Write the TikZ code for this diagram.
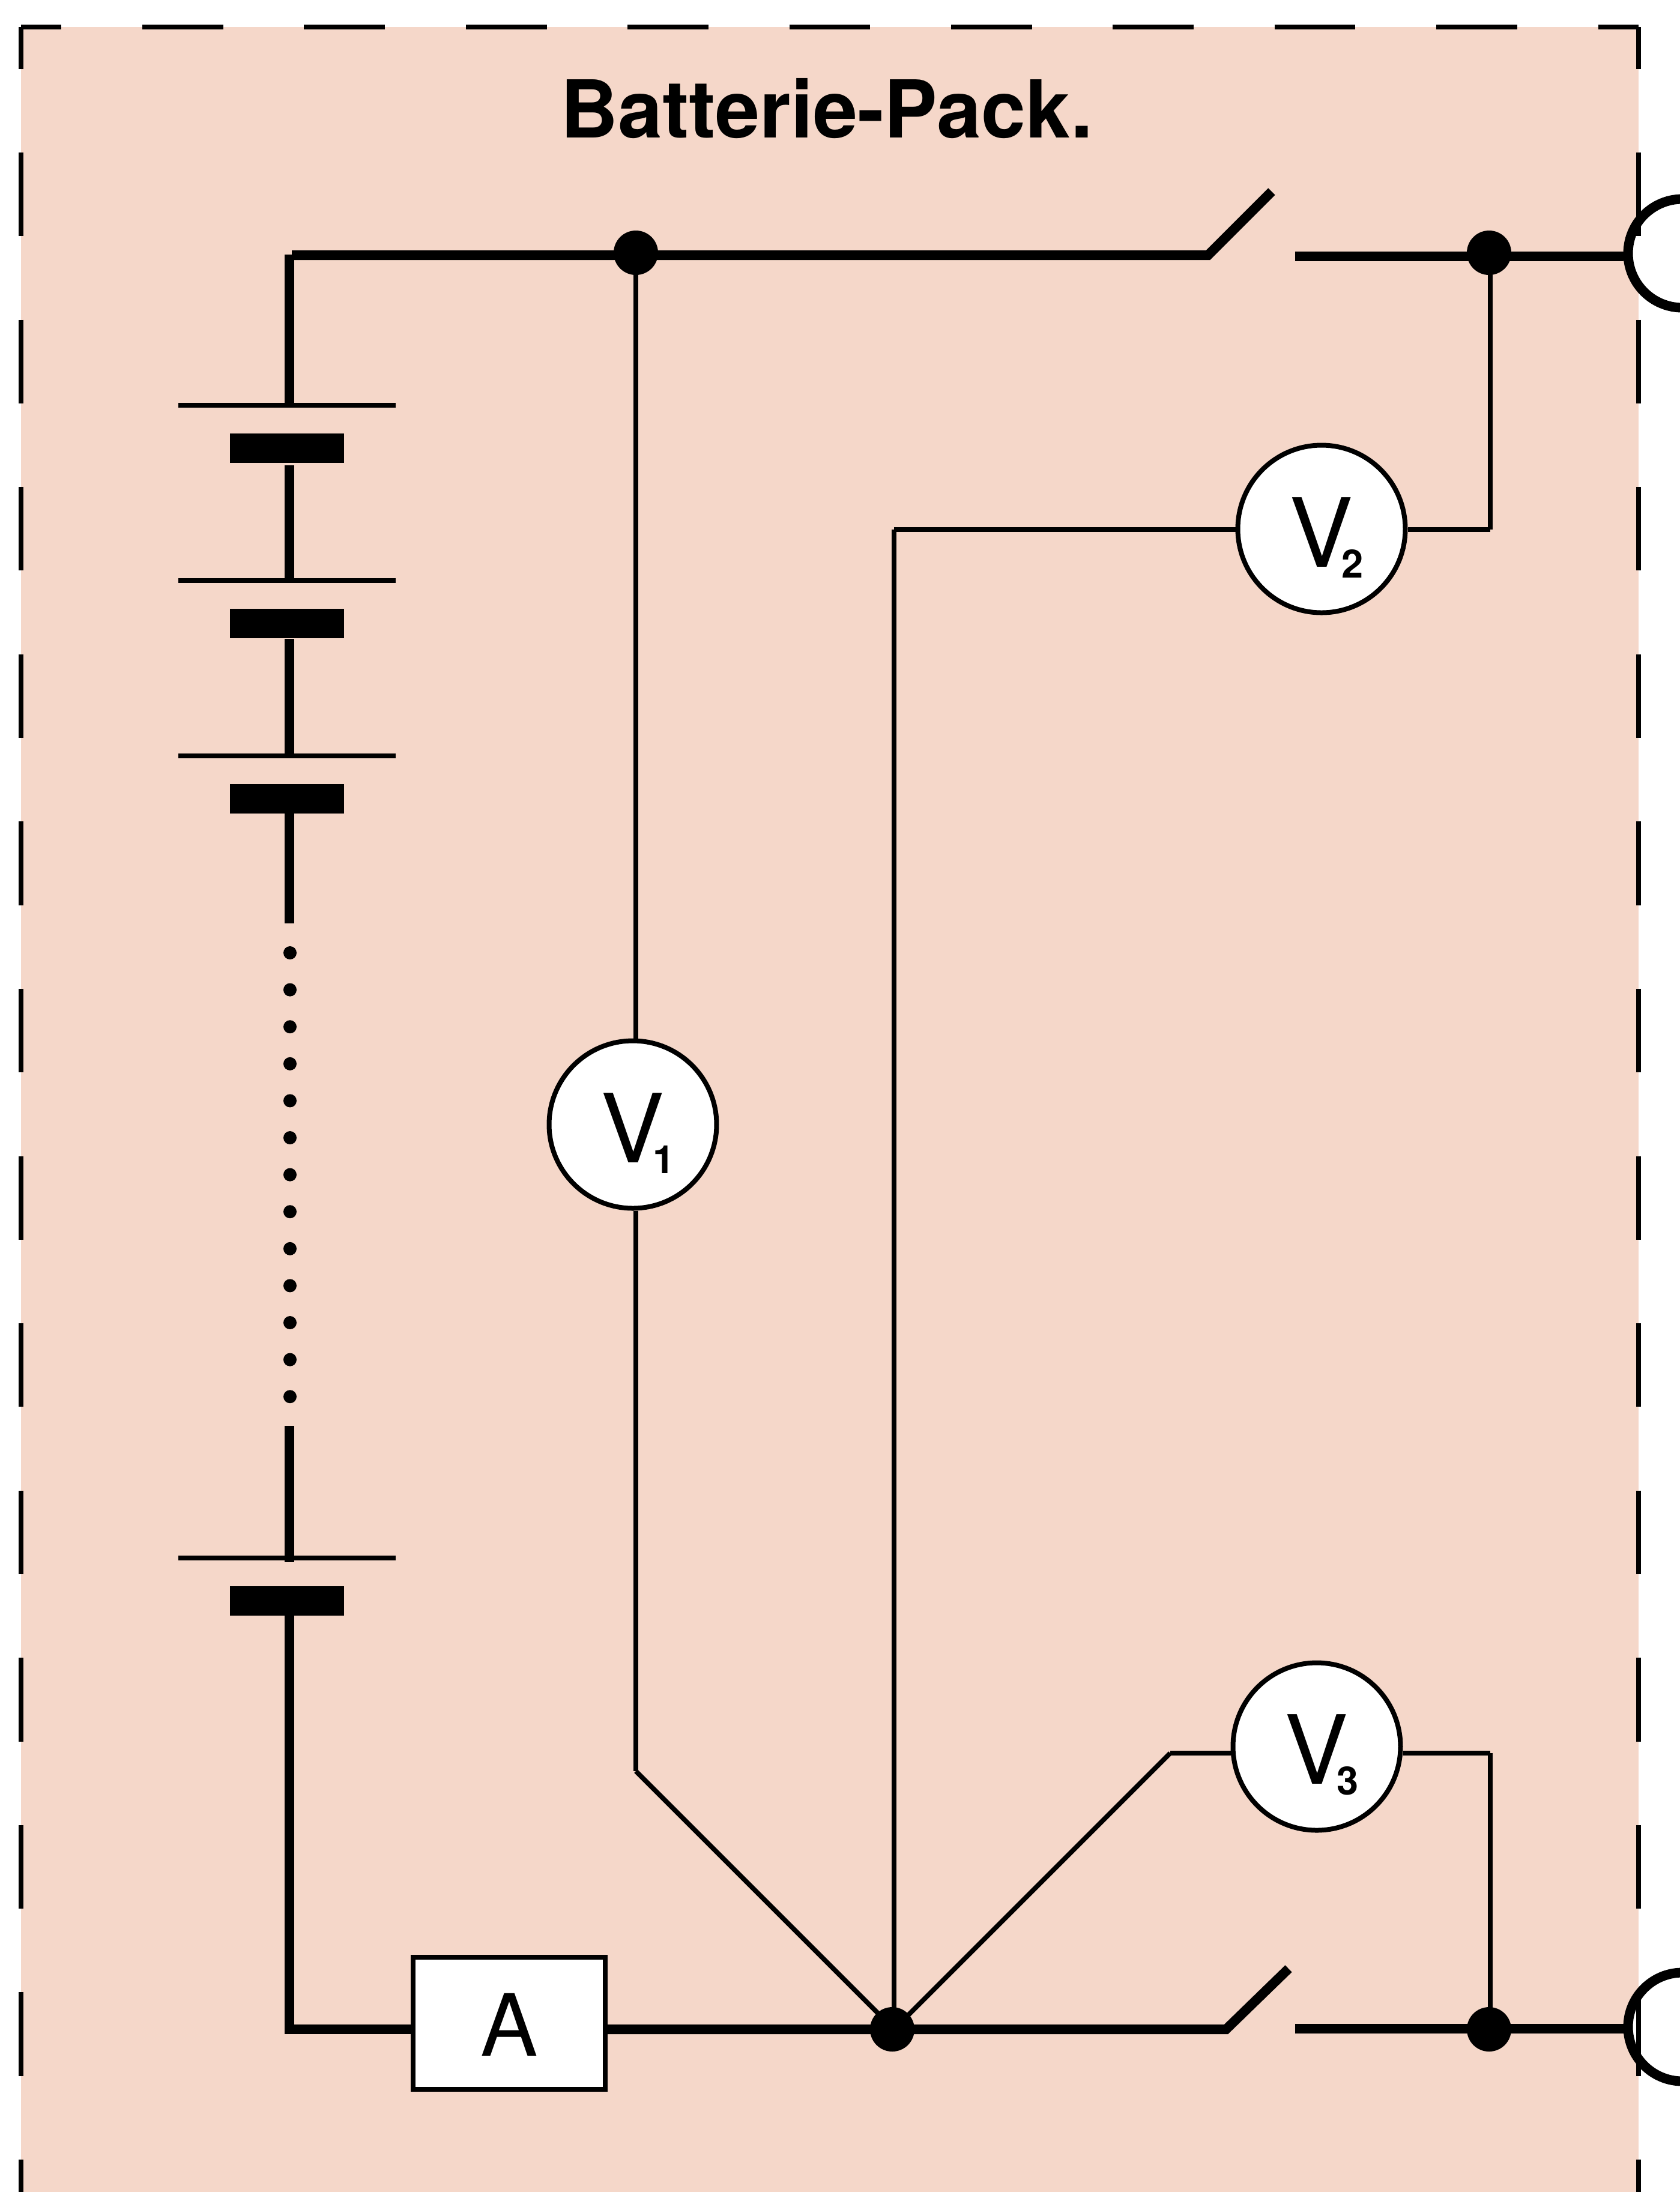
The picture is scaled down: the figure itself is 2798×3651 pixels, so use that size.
\documentclass[tikz,border=0pt]{standalone}
\usepackage{fontspec}
\setmainfont{TeX Gyre Heros}
\definecolor{packfill}{RGB}{245,215,201}
\tikzset{
  mainwire/.style={black, line width=1.6pt},
  signalwire/.style={black, line width=0.8pt},
  framewide/.style={black, line width=0.8pt, dash pattern=on 13.47pt off 13.47pt, dash phase=6.73pt},
  frametall/.style={black, line width=0.8pt, dash pattern=on 13.93pt off 13.93pt, dash phase=6.96pt},
  plate/.style={fill=black, inner sep=0pt, minimum width=36.2pt, minimum height=0.8pt},
  cell/.style={fill=black, inner sep=0pt, minimum width=19pt, minimum height=4.9pt},
  dotmark/.style={circle, fill=black, inner sep=0pt, minimum size=2.2pt},
  junction/.style={circle, fill=black, inner sep=0pt, minimum size=7.4pt},
  terminal/.style={circle, draw=black, fill=white, line width=1.6pt, inner sep=0pt, minimum size=18.1pt},
  meter/.style={circle, draw=black, fill=white, line width=0.8pt, inner sep=0pt, minimum size=27.9pt,
    font=\fontsize{15.9}{16}\selectfont, text height=14.4pt},
  ammeter/.style={draw=black, fill=white, line width=0.8pt, inner sep=0pt, minimum width=32pt, minimum height=22pt,
    font=\fontsize{14.3}{15}\selectfont, text height=10.9pt},
  title/.style={font=\fontsize{13.3}{14}\selectfont\bfseries, inner sep=0pt, anchor=base}
}
\newcommand{\metersub}[1]{\rlap{\kern-2pt\raisebox{-1.8pt}{\fontsize{6.5}{7}\selectfont\bfseries #1}}}

\begin{document}
\begin{tikzpicture}[x=0.1pt,y=-0.1pt]
  \useasboundingbox (0,0) rectangle (2798,3651);
  \clip (0,0) rectangle (2798,3651);

  % pack background
  \coordinate (framenw) at (35,45);
  \coordinate (framene) at (2729,45);
  \coordinate (framesw) at (35,3651);
  \coordinate (framese) at (2729,3651);
  \fill[packfill] (framenw) rectangle (framese);

  \node[title] (packtitle) at (1377,229) {Batterie-Pack.};

  % outlets
  \node[terminal] (outtop) at (2802,422) {};
  \node[terminal] (outbottom) at (2802,3376) {};

  % cells
  \foreach \name/\ypos/\yout in {a/675/775,b/967/1064,c/1259/1355,d/2595/2691}{
    \node[plate] (plate\name) at (478,\ypos) {};
    \node[cell] (cell\name) at (478,\ypos+71.5) {};
    \coordinate (in\name) at (482,\ypos);
    \coordinate (out\name) at (482,\yout);
  }
  \foreach \i in {0,...,12}
    \node[dotmark] (dots\i) at (483,1587+61.6*\i) {};

  \coordinate (cornertop) at (482,424);
  \coordinate (cornerbottom) at (482,3388);
  \coordinate (gapa) at (482,1538);
  \coordinate (gapb) at (482,2375);
  \coordinate (gapc) at (482,2602);
  \draw[mainwire] (cornertop) -- (ina);
  \draw[mainwire] (outa) -- (inb);
  \draw[mainwire] (outb) -- (inc);
  \draw[mainwire] (outc) -- (gapa);
  \draw[mainwire] (gapb) -- (gapc);
  \draw[mainwire] (outd) -- (cornerbottom);

  % junctions and meters
  \node[junction] (dotplus) at (1059,421) {};
  \node[junction] (dotminus) at (1486,3380) {};
  \node[junction] (dottop) at (2480,421) {};
  \node[junction] (dotbottom) at (2480,3380) {};
  \node[meter] (vone) at (1054,1873) {V\metersub{1}};
  \node[meter] (vtwo) at (2201,881) {V\metersub{2}};
  \node[meter] (vthree) at (2193,2909) {V\metersub{3}};
  \node[ammeter] (amp) at (848,3370) {A};

  % top rail
  \coordinate (railtop) at (486,425);
  \coordinate (pivottop) at (2012,425);
  \coordinate (tiptop) at (2118,319);
  \coordinate (contacttop) at (2157,427);
  \draw[mainwire] (railtop) -- (pivottop) -- (tiptop);
  \draw[mainwire] (contacttop) -- (outtop.west |- contacttop);

  % bottom rail
  \coordinate (railbottom) at (486,3380);
  \coordinate (pivotbottom) at (2042,3380);
  \coordinate (tipbottom) at (2146,3279);
  \coordinate (contactbottom) at (2157,3379);
  \draw[mainwire] (railbottom) -- (amp.west |- railbottom);
  \draw[mainwire] (amp.east |- railbottom) -- (pivotbottom) -- (tipbottom);
  \draw[mainwire] (contactbottom) -- (outbottom.west |- contactbottom);

  % measuring lines
  \coordinate (bendone) at (1059,2950);
  \coordinate (bendtwoa) at (1489,882);
  \coordinate (bendtwob) at (2482,882);
  \coordinate (bendthreea) at (1949,2920);
  \coordinate (bendthreeb) at (2482,2920);
  \coordinate (hubminus) at (1489,3380);
  \draw[signalwire] (dotplus.center) -- (dotplus.center |- vone.north);
  \draw[signalwire] (dotplus.center |- vone.south) -- (bendone);
  \draw[signalwire] (bendone) -- (hubminus);
  \draw[signalwire] (hubminus) -- (bendtwoa);
  \draw[signalwire] (bendtwoa) -- (vtwo.west |- bendtwoa);
  \draw[signalwire] (vtwo.east |- bendtwob) -- (bendtwob);
  \draw[signalwire] (bendtwob) -- (bendtwob |- dottop);
  \draw[signalwire] (hubminus) -- (bendthreea);
  \draw[signalwire] (bendthreea) -- (vthree.west |- bendthreea);
  \draw[signalwire] (vthree.east |- bendthreeb) -- (bendthreeb);
  \draw[signalwire] (bendthreeb) -- (bendthreeb |- dotbottom);

  % pack outline
  \draw[framewide] (framenw) -- (framene);
  \draw[frametall] (framenw) -- (framesw);
  \draw[frametall] (framene) -- (framese);
\end{tikzpicture}
\end{document}
